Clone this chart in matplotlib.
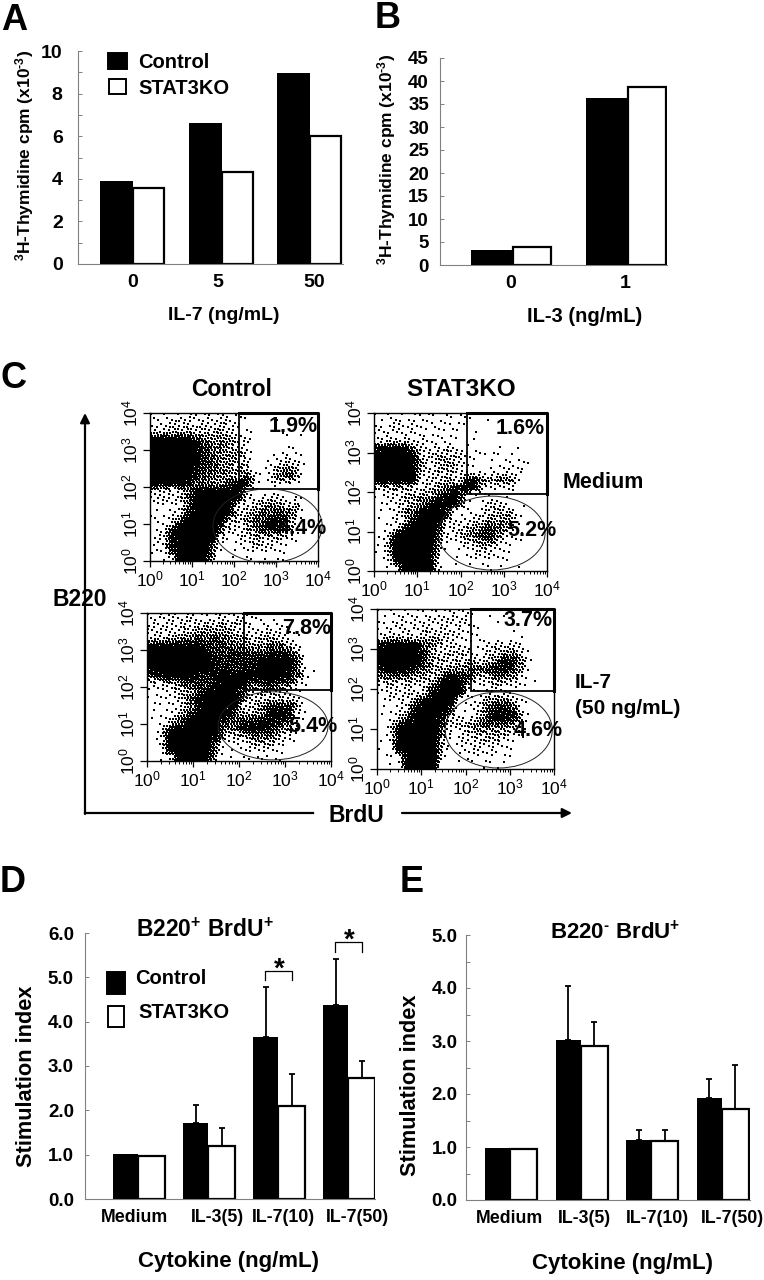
import numpy as np
import matplotlib
matplotlib.use('Agg')
import matplotlib.pyplot as plt
from matplotlib.patches import Ellipse, Rectangle

plt.rcParams['font.family'] = ['Liberation Sans', 'DejaVu Sans']
plt.rcParams['mathtext.default'] = 'regular'

W, H = 764, 1280

# --- bar chart values
il7_control = [3.9, 6.6, 8.95]
il7_ko = [3.55, 4.3, 6.0]
il7_labels = ['0', '5', '50']

il3_control = [3.2, 36.2]
il3_ko = [4.0, 38.7]
il3_labels = ['0', '1']

cytokines = ['Medium', 'IL-3(5)', 'IL-7(10)', 'IL-7(50)']
d_control = [1.02, 1.72, 3.65, 4.38]
d_ko = [0.98, 1.19, 2.10, 2.72]
d_control_err = [0, 0.40, 1.14, 1.03]
d_ko_err = [0, 0.42, 0.72, 0.39]

e_control = [0.98, 3.01, 1.13, 1.92]
e_ko = [0.97, 2.90, 1.12, 1.72]
e_control_err = [0, 1.03, 0.19, 0.36]
e_ko_err = [0, 0.45, 0.20, 0.83]

# --- flow panels: dot density on a 20x20 grid (0.2 decade cells),
# top row first, 0 = empty .. 9 = solid black
control_medium = [
    "32233332322100010000",
    "23343343432100110000",
    "33444444543200010000",
    "99999765554300010100",
    "99999976654300012100",
    "99999976555400123200",
    "99999977554410234300",
    "99999876655421356410",
    "99999866554731467510",
    "99998665579932343200",
    "43345899999300100000",
    "33336999999234433200",
    "22236999993345654400",
    "12237999983456676500",
    "22369999944567986300",
    "22699999733468986200",
    "23899999423454554100",
    "23899998222344331000",
    "23799995112233321000",
    "11399994011111221000",
]
ko_medium = [
    "12222221222101000000",
    "22323322221100000000",
    "33323222221100000000",
    "33433322221101100000",
    "89996333432201111100",
    "99999435443202122100",
    "99999534543202222200",
    "99999434443212233200",
    "99999334436965664000",
    "44543345689932322000",
    "12345557994021110000",
    "12344689993014300000",
    "13256999712234454000",
    "11247999523345553000",
    "12379998234567653000",
    "13999997345678531000",
    "14999995123455322000",
    "13999994112343221000",
    "12999993011222210000",
    "01399994001112111000",
]
control_il7 = [
    "23333323323201000000",
    "33334344443222210000",
    "33334555544333321000",
    "44556767655445431000",
    "99999977766556742000",
    "99999997787778885000",
    "99999998787899996100",
    "99999998878899996000",
    "78999879999999986100",
    "33457778999678763000",
    "22345789996355432000",
    "22236899997344432000",
    "12235899993457784000",
    "12236999974459983000",
    "12269999867788872000",
    "13799999568998652000",
    "13999999445666431000",
    "13999997223454321000",
    "02999995122333210000",
    "01299994111122110000",
]
ko_il7 = [
    "12232222323101000000",
    "22323333333102100000",
    "22333433332200000000",
    "34433444332201121000",
    "89999654332234343000",
    "99999743443234564000",
    "99999744445446975000",
    "89997644556678874100",
    "56654447978446653100",
    "34343469992234322000",
    "23333499991133210000",
    "12336999912356640000",
    "12249999612368873000",
    "12379998412379984000",
    "13899997345676653000",
    "13999995234545432000",
    "13999993233344320000",
    "12999994123333210000",
    "11399993012222100000",
    "01399991001121110000",
]
percent_labels = ['1.9%', '4.4%', '1.6%', '5.2%', '7.8%', '5.4%', '3.7%', '4.6%']

# dot coverage for each density level
LEVEL_FRAC = [0, 0.02, 0.05, 0.10, 0.18, 0.30, 0.45, 0.65, 0.85, 1.02]

fig = plt.figure(figsize=(W / 100, H / 100), dpi=100)


def px_axes(left, top, right, bottom):
    return fig.add_axes([left / W, 1 - bottom / H, (right - left) / W, (bottom - top) / H])


def txt(x, y, s, size, ha='center', va='center', weight='bold', **kw):
    return fig.text(x / W, 1 - y / H, s, fontsize=size, ha=ha, va=va, fontweight=weight, **kw)


def swatch(left, top, right, bottom, color):
    fig.add_artist(Rectangle((left / W, 1 - bottom / H), (right - left) / W, (bottom - top) / H,
                             transform=fig.transFigure, facecolor=color,
                             edgecolor='black', linewidth=1.4))


def bar_panel(box, ymax, major, minor, ylabels, control, ko, c0, step, w_black, w_white,
              label_x, labels, xtick_size, ytick_size, ypad, control_err=None, ko_err=None):
    ax = px_axes(*box)
    ax.set_xlim(box[0], box[2])
    ax.set_ylim(0, ymax)
    centers = c0 + step * np.arange(len(control))
    ax.bar(centers - w_black / 2, control, w_black, color='black', zorder=3)
    ax.bar(centers + w_white / 2, ko, w_white, facecolor='white', edgecolor='black',
           linewidth=1.6, zorder=2)
    if control_err is not None:
        for i in range(len(control)):
            if control_err[i] > 0:
                ax.errorbar(centers[i] - w_black / 2, control[i], yerr=[[0], [control_err[i]]],
                            color='black', elinewidth=1.3, capsize=2.5, capthick=1.3,
                            clip_on=False, zorder=1)
            if ko_err[i] > 0:
                ax.errorbar(centers[i] + w_white / 2, ko[i], yerr=[[0], [ko_err[i]]],
                            color='black', elinewidth=1.3, capsize=2.5, capthick=1.3,
                            clip_on=False, zorder=1)
    for s in ['top', 'right']:
        ax.spines[s].set_visible(False)
    for s in ['left', 'bottom']:
        ax.spines[s].set_color('#808080')
        ax.spines[s].set_linewidth(0.8)
    ax.set_yticks(major)
    ax.set_yticklabels(ylabels, fontsize=ytick_size, fontweight='bold')
    ax.set_yticks(minor, minor=True)
    ax.tick_params(axis='y', which='both', direction='in', length=3, width=0.7,
                   color='#808080', pad=ypad)
    ax.set_xticks(label_x)
    ax.set_xticklabels(labels, fontsize=xtick_size, fontweight='bold')
    ax.tick_params(axis='x', length=0, pad=7)
    return ax, centers


def stipple(grid, nx, ny):
    # the read density grid is smoothed up to dot resolution and turned into dots
    # with a fixed ordered-dither threshold, so the dots follow the grid only
    levels = np.array([[int(ch) for ch in row] for row in grid], dtype=float)
    cell = (np.arange(20) + 0.5) * 0.2
    xs = (np.arange(nx) + 0.5) * 4 / nx
    ys = (np.arange(ny) + 0.5) * 4 / ny
    by_col = np.array([np.interp(xs, cell, row) for row in levels])
    fine = np.array([np.interp(ys, cell, by_col[:, i]) for i in range(nx)]).T
    frac = np.interp(fine, np.arange(10), LEVEL_FRAC)
    ix, iy = np.meshgrid(np.arange(nx), np.arange(ny))
    thresh = (52.9829189 * ((0.06711056 * ix + 0.00583715 * iy) % 1)) % 1
    keep = thresh < frac
    return xs[ix[keep]], 4 - ys[iy[keep]]


def flow_panel(box, grid, gate, ell):
    ax = px_axes(*box)
    ax.set_xlim(0, 4)
    ax.set_ylim(0, 4)
    dot_x, dot_y = stipple(grid, int((box[2] - box[0]) / 1.5), int((box[3] - box[1]) / 1.5))
    ax.scatter(dot_x, dot_y, s=1.35, marker='s', color='black', linewidths=0, zorder=2)
    ax.add_patch(Rectangle((gate[0], gate[1]), 4 - gate[0], 4 - gate[1], fill=False,
                           edgecolor='black', linewidth=1.3, zorder=4))
    ax.plot([gate[0], 4, 4], [4, 4, gate[1]], color='black', linewidth=2.2, zorder=5, clip_on=False)
    ax.add_patch(Ellipse((ell[0], ell[1]), ell[2], ell[3], fill=False, edgecolor='#222222',
                         linewidth=0.7, zorder=4, clip_on=False))
    ax.set_xticks(range(5))
    ax.set_yticks(range(5))
    ax.set_xticklabels(['$10^{%d}$' % i for i in range(5)], fontsize=12.5)
    ax.set_yticklabels(['$10^{%d}$' % i for i in range(5)], fontsize=12.5, rotation=90, va='center')
    minors = [k + np.log10(m) for k in range(4) for m in range(2, 10)]
    ax.set_xticks(minors, minor=True)
    ax.tick_params(axis='x', which='major', length=4, width=0.9, pad=2)
    ax.tick_params(axis='x', which='minor', length=2, width=0.7)
    ax.tick_params(axis='y', which='major', length=5, width=0.9, pad=2)
    for s in ax.spines.values():
        s.set_linewidth(1.0)
    return ax


THY_LABEL = '$^{3}$H-Thymidine cpm (x10$^{\u20103}$)'

# --- A
bar_panel((78, 51, 343, 264), 10, [0, 2, 4, 6, 8, 10], [1, 3, 5, 7, 9],
          ['0', '2', '4', '6', '8', '10'], il7_control, il7_ko, 133, 88.5, 33, 31,
          [133, 218, 314], il7_labels, 14, 14, 11)
swatch(108, 53, 127, 69, 'black')
swatch(109, 79, 126, 94, 'white')
txt(138, 62, 'Control', 14.5, ha='left')
txt(138, 88, 'STAT3KO', 14.5, ha='left')
txt(25, 155, THY_LABEL, 12.5, rotation=90)
txt(224, 315, 'IL-7 (ng/mL)', 14)
txt(14, 20, 'A', 26)

# --- B
bar_panel((440, 58, 667, 265), 45, list(range(0, 50, 5)), [],
          [str(v) for v in range(0, 50, 5)], il3_control, il3_ko, 513, 115, 42, 38,
          [511, 625], il3_labels, 14, 13.5, 8)
txt(387, 159, THY_LABEL, 12.5, rotation=90)
txt(585, 316, 'IL-3 (ng/mL)', 14.5)
txt(388, 19, 'B', 26)

# --- C
flow_panel((150, 413, 318, 561), control_medium, (2.12, 1.95), (2.8, 0.95, 2.6, 2.0))
flow_panel((374, 413, 547, 571), ko_medium, (2.15, 1.95), (2.72, 0.96, 2.47, 1.87))
flow_panel((147, 613, 331, 761), control_il7, (2.11, 1.92), (2.74, 0.95, 2.39, 1.84))
flow_panel((377, 609, 554, 769), ko_il7, (2.12, 1.95), (2.75, 0.975, 2.42, 1.9))

percent_px = [(293, 427), (302, 528), (520, 428), (532, 530),
              (307, 628), (313, 727), (528, 621), (538, 730)]
for (px, py), s in zip(percent_px, percent_labels):
    txt(px, py, s, 15.5, zorder=10)

txt(14, 378, 'C', 26)
txt(232, 389, 'Control', 16.5)
txt(461, 389, 'STAT3KO', 17.5)
txt(603, 483, 'Medium', 15.5)
txt(575, 682, 'IL-7', 15, ha='left')
txt(575, 708, '(50 ng/mL)', 15, ha='left')
txt(80, 600, 'B220', 16.5)
txt(356, 816, 'BrdU', 16.5)

overlay = fig.add_axes([0, 0, 1, 1], zorder=-1)
overlay.set_xlim(0, W)
overlay.set_ylim(H, 0)
overlay.axis('off')
overlay.annotate('', xy=(85, 413), xytext=(85, 814),
                 arrowprops=dict(arrowstyle='-|>', color='black', lw=1.6, shrinkA=0, shrinkB=0,
                                 mutation_scale=14))
overlay.plot([85, 313], [813, 813], color='black', lw=1.6)
overlay.annotate('', xy=(572, 813), xytext=(402, 813),
                 arrowprops=dict(arrowstyle='-|>', color='black', lw=1.6, shrinkA=0, shrinkB=0,
                                 mutation_scale=14))

# --- D
ax_d, cd = bar_panel((85, 933, 375, 1199), 6, [0, 1, 2, 3, 4, 5, 6], [],
                     ['0.0', '1.0', '2.0', '3.0', '4.0', '5.0', '6.0'], d_control, d_ko, 138, 70, 25, 27,
                     [135, 217, 283, 357], cytokines, 12.8, 13.5, 8, d_control_err, d_ko_err)
for i, top, low in [(2, 5.15, 4.93), (3, 5.80, 5.58)]:
    ax_d.plot([cd[i] - 13, cd[i] - 13, cd[i] + 14, cd[i] + 14], [low, top, top, low],
              color='black', lw=0.9, clip_on=False)
    ax_d.text(cd[i] + 1, top + 0.02, '*', fontsize=20, fontweight='bold', ha='center', va='center')
swatch(107, 972, 125, 994, 'black')
swatch(108, 1006, 124, 1027, 'white')
txt(135, 978, 'Control', 14.5, ha='left')
txt(138, 1012, 'STAT3KO', 14.5, ha='left')
txt(205, 930, 'B220$^{+}$ BrdU$^{+}$', 16.5)
txt(27, 1076, 'Stimulation index', 15.7, rotation=90)
txt(228, 1262, 'Cytokine (ng/mL)', 16)
txt(13, 882, 'D', 26)

# --- E
bar_panel((466, 935, 750, 1200), 5, [0, 1, 2, 3, 4, 5], [0.5, 1.5, 2.5, 3.5, 4.5],
          ['0.0', '1.0', '2.0', '3.0', '4.0', '5.0'], e_control, e_ko, 510, 70.5, 25, 27,
          [510, 584, 657, 732], cytokines, 12.8, 13.5, 6, e_control_err, e_ko_err)
txt(615, 932, 'B220$^{\u2010}$ BrdU$^{+}$', 16)
txt(410, 1085, 'Stimulation index', 15.7, rotation=90)
txt(623, 1264, 'Cytokine (ng/mL)', 16)
txt(412, 882, 'E', 26)

fig.savefig('out.png', dpi=100)
